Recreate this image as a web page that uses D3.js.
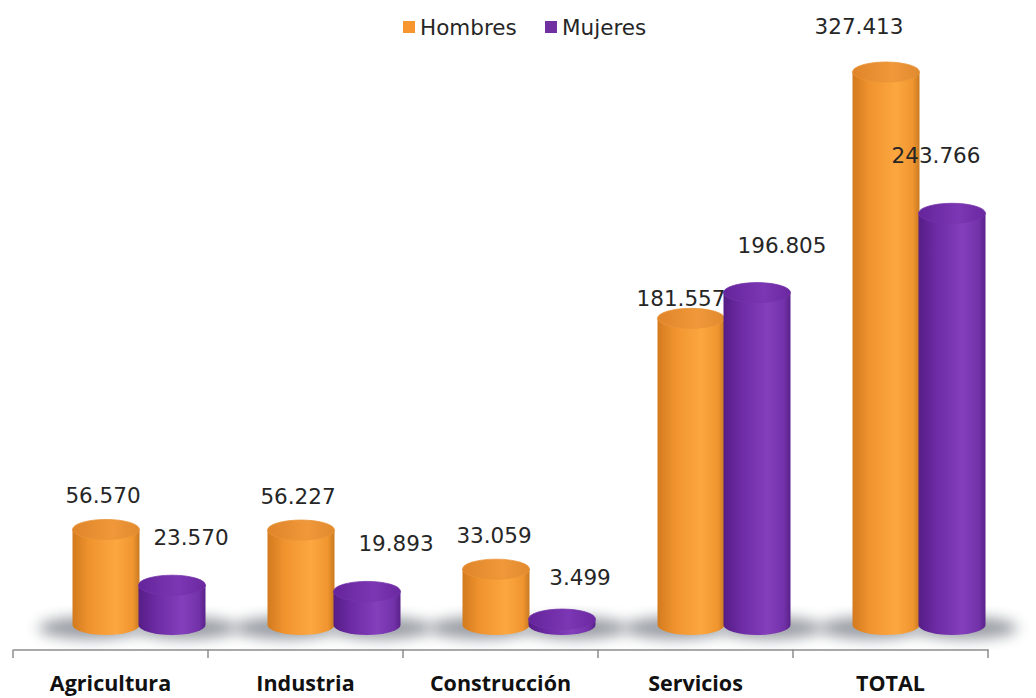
<!DOCTYPE html>
<html>
<head>
<meta charset="utf-8">
<script src="https://cdn.jsdelivr.net/npm/d3@7"></script>
<style>
  body { margin: 0; background: #fff; }
  svg { display: block; }
</style>
</head>
<body>
<svg width="1036" height="698"></svg>
<script>
// data
var categories = ["Agricultura", "Industria", "Construcción", "Servicios", "TOTAL"];
var hombres = [56570, 56227, 33059, 181557, 327413];
var mujeres = [23570, 19893, 3499, 196805, 243766];
var seriesNames = ["Hombres", "Mujeres"];

// label nudges (excel placed these by hand-ish)
var nudgeH = [[-3, 0], [-3, 0], [-2, 0], [-10, 14], [-27, -12]];
var nudgeM = [[19, 0], [29, 0], [18, 6], [25, 0], [-16, -10]];

var svg = d3.select("svg");
var base = 625, ry = 10, barW = 67;

var x = d3.scaleBand().domain(categories).range([13, 988]);
var y = d3.scaleLinear().domain([0, 327413]).range([base, 72]);

var defs = svg.append("defs");

function grad(id, stops) {
  var g = defs.append("linearGradient").attr("id", id)
    .attr("x1", "0%").attr("x2", "100%").attr("y1", "0%").attr("y2", "0%");
  stops.forEach(function(s) {
    g.append("stop").attr("offset", s[0]).attr("stop-color", s[1]);
  });
}
grad("gOrange", [["0%", "#d27a1e"], ["25%", "#f0932f"], ["65%", "#fca740"], ["90%", "#f0952f"], ["100%", "#c97a22"]]);
grad("gOrangeTop", [["0%", "#e0852a"], ["60%", "#f0983a"], ["100%", "#e08a2e"]]);
grad("gPurple", [["0%", "#561d86"], ["25%", "#6c2aa3"], ["65%", "#843fbc"], ["90%", "#7332a9"], ["100%", "#5a218a"]]);
grad("gPurpleTop", [["0%", "#64249a"], ["60%", "#7c37b4"], ["100%", "#6a28a0"]]);

defs.append("filter").attr("id", "blur")
  .attr("x", "-50%").attr("y", "-50%").attr("width", "200%").attr("height", "200%")
  .append("feGaussianBlur").attr("stdDeviation", 7);

var data = [];
categories.forEach(function(c, i) {
  data.push({cat: c, s: 0, v: hombres[i], cx: x(c) + 93, nudge: nudgeH[i]});
  data.push({cat: c, s: 1, v: mujeres[i], cx: x(c) + 159, nudge: nudgeM[i]});
});

// shadows
svg.append("g").selectAll("ellipse").data(data).enter().append("ellipse")
  .attr("cx", function(d) { return d.cx + (d.s == 0 ? -16 : 14); })
  .attr("cy", base + 3)
  .attr("rx", barW / 2 + 18)
  .attr("ry", 11)
  .attr("fill", "#7f858d")
  .attr("opacity", 0.8)
  .attr("filter", "url(#blur)");

// cylinders
var bars = svg.append("g").selectAll("g").data(data).enter().append("g");

bars.append("path")
  .attr("d", function(d) {
    var l = d.cx - barW / 2, r = d.cx + barW / 2, t = y(d.v);
    return "M" + l + "," + t + " L" + l + "," + base +
      " A" + barW / 2 + "," + ry + " 0 0 0 " + r + "," + base +
      " L" + r + "," + t + " Z";
  })
  .attr("fill", function(d) { return d.s == 0 ? "url(#gOrange)" : "url(#gPurple)"; });

bars.append("ellipse")
  .attr("cx", function(d) { return d.cx; })
  .attr("cy", function(d) { return y(d.v); })
  .attr("rx", barW / 2)
  .attr("ry", ry)
  .attr("fill", function(d) { return d.s == 0 ? "url(#gOrangeTop)" : "url(#gPurpleTop)"; })
  .attr("stroke", function(d) { return d.s == 0 ? "#e99437" : "#7534aa"; })
  .attr("stroke-width", 0.8);

// value labels
var fmt = function(v) { return d3.format(",")(v).replace(/,/g, "."); };
svg.append("g").selectAll("text").data(data).enter().append("text")
  .attr("x", function(d) { return d.cx + d.nudge[0]; })
  .attr("y", function(d) {
    var off = d.s == 0 ? 16 : 30;
    return y(d.v) - ry - off + d.nudge[1];
  })
  .attr("text-anchor", "middle")
  .attr("font-family", "DejaVu Sans")
  .attr("font-size", 21.5)
  .attr("fill", "#262626")
  .text(function(d) { return fmt(d.v); });

// axis
var axis = svg.append("g").attr("transform", "translate(0,649.5)")
  .call(d3.axisBottom(x).tickSize(0).tickFormat(""));
axis.select(".domain").attr("stroke", "#8c8c8c").attr("stroke-width", 1.5);

var bounds = categories.map(function(c) { return x(c); }).concat([x.range()[1]]);
svg.append("g").selectAll("line").data(bounds).enter().append("line")
  .attr("x1", function(d) { return d; }).attr("x2", function(d) { return d; })
  .attr("y1", 649.5).attr("y2", 658)
  .attr("stroke", "#8c8c8c").attr("stroke-width", 1.5);

svg.append("g").selectAll("text").data(categories).enter().append("text")
  .attr("x", function(d) { return x(d) + x.bandwidth() / 2; })
  .attr("y", 691)
  .attr("text-anchor", "middle")
  .attr("font-family", "Open Sans")
  .attr("font-weight", "bold")
  .attr("font-size", 21.5)
  .attr("fill", "#111")
  .text(function(d) { return d; });

// legend
var legColors = ["#f7962f", "#7030a0"];
var legX = [403, 545];
var leg = svg.append("g").selectAll("g").data(seriesNames).enter().append("g")
  .attr("transform", function(d, i) { return "translate(" + legX[i] + ",0)"; });
leg.append("rect").attr("x", 0).attr("y", 21).attr("width", 12).attr("height", 12)
  .attr("fill", function(d, i) { return legColors[i]; });
leg.append("text").attr("x", 17).attr("y", 35)
  .attr("font-family", "DejaVu Sans").attr("font-size", 21.5).attr("fill", "#262626")
  .text(function(d) { return d; });
</script>
</body>
</html>
